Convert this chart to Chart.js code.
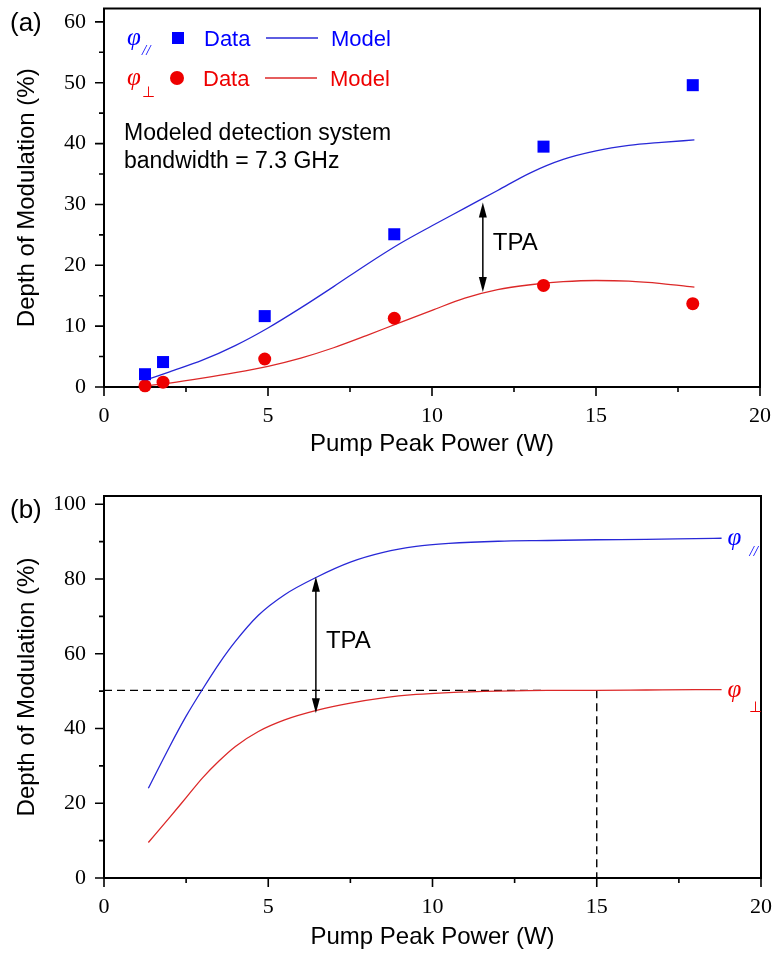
<!DOCTYPE html>
<html>
<head>
<meta charset="utf-8">
<script src="https://cdn.jsdelivr.net/npm/chart.js@4.4.1/dist/chart.umd.min.js"></script>
<style>
  body { margin: 0; background: #fff; }
  #caixa_a { position: absolute; left: 0; top: 0; }
  #caixa_b { position: absolute; left: 0; top: 480px; }
</style>
</head>
<body>
<div id="caixa_a"><canvas id="grafico_a" width="774" height="470"></canvas></div>
<div id="caixa_b"><canvas id="grafico_b" width="774" height="477"></canvas></div>
<script>
// painel (a) - pontos medidos
const potenciaDados = [1.25, 1.8, 4.9, 8.85, 13.4, 17.95];
const dadosParalelo = [2.1, 4.1, 11.65, 25.1, 39.5, 49.6];
const dadosPerpendicular = [0.2, 0.8, 4.6, 11.3, 16.7, 13.7];

// painel (a) - modelo
const potenciaModeloA = [1.3, 2, 3, 4, 5, 6, 7, 8, 9, 10, 11, 12, 13, 14, 15, 16, 17, 18];
const modeloParaleloA = [1.2, 2.5, 4.4, 6.8, 9.7, 13.0, 16.5, 20.1, 23.5, 26.5, 29.4, 32.3, 35.2, 37.4, 38.8, 39.7, 40.2, 40.6];
const modeloPerpendicularA = [0.2, 0.65, 1.45, 2.35, 3.4, 4.75, 6.45, 8.45, 10.55, 12.6, 14.6, 16.0, 16.8, 17.3, 17.5, 17.4, 17.0, 16.4];

// painel (b) - modelo
const potenciaModeloB = [1.35, 2, 2.5, 3, 3.5, 4, 4.7, 5.5, 6.5, 7.5, 8.5, 9.5, 10.5, 12, 13.5, 15, 16.5, 18, 18.8];
const modeloParaleloB = [24, 35.2, 43.3, 50.5, 57.3, 63.3, 70.3, 75.8, 80.6, 84.5, 87.1, 88.7, 89.5, 90.1, 90.3, 90.5, 90.6, 90.8, 90.9];
const modeloPerpendicularB = [9.5, 16.2, 21.5, 26.8, 31.3, 35.2, 39.2, 42.3, 44.9, 46.8, 48.2, 49.1, 49.6, 50.0, 50.2, 50.2, 50.3, 50.4, 50.4];

// linhas tracejadas do painel (b)
const tracejadoHorizontal = [[0, 50.2], [13.45, 50.2]];
const tracejadoVertical = [[15, 50.2], [15, 0]];

// setas TPA: [potencia, topo, base]
const setaA = [11.55, 30.3, 15.6];
const setaB = [6.45, 80.6, 44.1];

// ticks
const ticksX = [0, 5, 10, 15, 20];
const ticksXmenor = [2.5, 7.5, 12.5, 17.5];
const ticksYa = [0, 10, 20, 30, 40, 50, 60];
const ticksYaMenor = [5, 15, 25, 35, 45, 55];
const ticksYb = [0, 20, 40, 60, 80, 100];
const ticksYbMenor = [10, 30, 50, 70, 90];

const azul = '#0000ff';
const vermelho = '#ee0000';
const linhaAzul = 'rgb(40, 40, 215)';
const linhaVermelha = 'rgb(220, 40, 40)';
const fonteSans = 'Liberation Sans';
const fonteSerif = 'Liberation Serif';

function pares(xs, ys) {
  return xs.map((x, i) => ({ x: x, y: ys[i] }));
}

// moldura e marcas dos eixos
const pluginMoldura = {
  id: 'moldura',
  beforeDatasetsDraw(chart, args, opts) {
    const ctx = chart.ctx;
    const a = chart.chartArea;
    const x = chart.scales.x;
    const y = chart.scales.y;
    ctx.save();
    ctx.strokeStyle = '#000';
    ctx.lineWidth = 2;
    ctx.strokeRect(a.left, a.top, a.right - a.left, a.bottom - a.top);
    ctx.lineWidth = 1.6;
    ctx.beginPath();
    opts.xMaior.forEach(v => { const p = x.getPixelForValue(v); ctx.moveTo(p, a.bottom); ctx.lineTo(p, a.bottom + 9); });
    opts.xMenor.forEach(v => { const p = x.getPixelForValue(v); ctx.moveTo(p, a.bottom); ctx.lineTo(p, a.bottom + 5); });
    opts.yMaior.forEach(v => { const p = y.getPixelForValue(v); ctx.moveTo(a.left, p); ctx.lineTo(a.left - 9, p); });
    opts.yMenor.forEach(v => { const p = y.getPixelForValue(v); ctx.moveTo(a.left, p); ctx.lineTo(a.left - 5, p); });
    ctx.stroke();
    ctx.restore();
  }
};

function desenharSeta(ctx, px, yTopo, yBase) {
  ctx.save();
  ctx.strokeStyle = '#000';
  ctx.fillStyle = '#000';
  ctx.lineWidth = 1.5;
  ctx.beginPath();
  ctx.moveTo(px, yTopo + 10);
  ctx.lineTo(px, yBase - 10);
  ctx.stroke();
  ctx.beginPath();
  ctx.moveTo(px, yTopo);
  ctx.lineTo(px - 4, yTopo + 15);
  ctx.lineTo(px + 4, yTopo + 15);
  ctx.closePath();
  ctx.fill();
  ctx.beginPath();
  ctx.moveTo(px, yBase);
  ctx.lineTo(px - 4, yBase - 15);
  ctx.lineTo(px + 4, yBase - 15);
  ctx.closePath();
  ctx.fill();
  ctx.restore();
}

// anotacoes do painel (a)
const pluginAnotacoesA = {
  id: 'anotacoesA',
  afterDraw(chart) {
    const ctx = chart.ctx;
    const x = chart.scales.x;
    const y = chart.scales.y;
    ctx.save();
    ctx.textBaseline = 'alphabetic';
    ctx.fillStyle = '#000';
    ctx.font = '26px ' + fonteSans;
    ctx.fillText('(a)', 10, 31);

    // legenda
    ctx.font = 'italic 25px ' + fonteSerif;
    ctx.fillStyle = azul;
    ctx.fillText('φ', 127, 45);
    ctx.font = 'italic 15px ' + fonteSerif;
    ctx.fillText('//', 142, 55);
    ctx.fillRect(172, 32, 12, 12);
    ctx.font = '22px ' + fonteSans;
    ctx.fillText('Data', 204, 46);
    ctx.fillText('Model', 331, 46);
    ctx.strokeStyle = linhaAzul;
    ctx.lineWidth = 1.3;
    ctx.beginPath(); ctx.moveTo(266, 38); ctx.lineTo(318, 38); ctx.stroke();

    ctx.font = 'italic 25px ' + fonteSerif;
    ctx.fillStyle = vermelho;
    ctx.fillText('φ', 127, 85);
    ctx.font = '15px ' + fonteSerif;
    ctx.fillText('⊥', 142, 97);
    ctx.beginPath(); ctx.arc(177, 78, 7, 0, Math.PI * 2); ctx.fill();
    ctx.font = '22px ' + fonteSans;
    ctx.fillText('Data', 203, 86);
    ctx.fillText('Model', 330, 86);
    ctx.strokeStyle = linhaVermelha;
    ctx.beginPath(); ctx.moveTo(265, 78); ctx.lineTo(317, 78); ctx.stroke();

    ctx.fillStyle = '#000';
    ctx.font = '23px ' + fonteSans;
    ctx.fillText('Modeled detection system', 124, 140);
    ctx.fillText('bandwidth = 7.3 GHz', 124, 168);

    // seta TPA
    const px = x.getPixelForValue(setaA[0]);
    desenharSeta(ctx, px, y.getPixelForValue(setaA[1]), y.getPixelForValue(setaA[2]));
    ctx.font = '24px ' + fonteSans;
    ctx.fillText('TPA', px + 10, 250);
    ctx.restore();
  }
};

// anotacoes do painel (b)
const pluginAnotacoesB = {
  id: 'anotacoesB',
  afterDraw(chart) {
    const ctx = chart.ctx;
    const x = chart.scales.x;
    const y = chart.scales.y;
    ctx.save();
    ctx.fillStyle = '#000';
    ctx.font = '26px ' + fonteSans;
    ctx.fillText('(b)', 10, 38);

    const px = x.getPixelForValue(setaB[0]);
    desenharSeta(ctx, px, y.getPixelForValue(setaB[1]), y.getPixelForValue(setaB[2]));
    ctx.font = '24px ' + fonteSans;
    ctx.fillText('TPA', px + 10, 168);

    // rotulos no fim das curvas
    const n = potenciaModeloB.length - 1;
    const xFim = x.getPixelForValue(potenciaModeloB[n]) + 6;
    const yPar = y.getPixelForValue(modeloParaleloB[n]);
    const yPer = y.getPixelForValue(modeloPerpendicularB[n]);
    ctx.font = 'italic 25px ' + fonteSerif;
    ctx.fillStyle = azul;
    ctx.fillText('φ', xFim, yPar + 7);
    ctx.font = 'italic 15px ' + fonteSerif;
    ctx.fillText('//', xFim + 22, yPar + 18);
    ctx.font = 'italic 25px ' + fonteSerif;
    ctx.fillStyle = vermelho;
    ctx.fillText('φ', xFim, yPer + 7);
    ctx.font = '15px ' + fonteSerif;
    ctx.fillText('⊥', xFim + 21, yPer + 22);
    ctx.restore();
  }
};

function eixos(maxY, passoY, alturaX) {
  return {
    x: {
      type: 'linear',
      min: 0,
      max: 20,
      ticks: { stepSize: 5, color: '#000', padding: 7, font: { family: fonteSerif, size: 22 } },
      grid: { display: false, drawTicks: true, tickLength: 9 },
      border: { display: false },
      title: { display: true, text: 'Pump Peak Power (W)', color: '#000', font: { family: fonteSans, size: 24 }, padding: { top: 0, bottom: alturaX.titulo } },
      afterFit(s) { s.height = alturaX.altura; s.paddingLeft = 0; s.paddingRight = 0; }
    },
    y: {
      type: 'linear',
      min: 0,
      max: maxY,
      ticks: { stepSize: passoY, includeBounds: false, color: '#000', padding: 9, font: { family: fonteSerif, size: 22 } },
      grid: { display: false, drawTicks: true, tickLength: 9 },
      border: { display: false },
      title: { display: true, text: 'Depth of Modulation (%)', color: '#000', font: { family: fonteSans, size: 24 }, padding: { top: 13, bottom: 0 } },
      afterFit(s) { s.width = 104; s.paddingTop = 0; s.paddingBottom = 0; }
    }
  };
}

const configA = {
  type: 'scatter',
  data: {
    datasets: [
      { label: 'φ// Data', data: pares(potenciaDados, dadosParalelo), pointStyle: 'rect', pointRadius: 8.5, backgroundColor: azul, borderWidth: 0, clip: false },
      { label: 'φ⊥ Data', data: pares(potenciaDados, dadosPerpendicular), pointStyle: 'circle', pointRadius: 6.5, backgroundColor: vermelho, borderWidth: 0, clip: false },
      { label: 'φ// Model', data: pares(potenciaModeloA, modeloParaleloA), showLine: true, pointRadius: 0, borderColor: linhaAzul, borderWidth: 1.3, cubicInterpolationMode: 'monotone' },
      { label: 'φ⊥ Model', data: pares(potenciaModeloA, modeloPerpendicularA), showLine: true, pointRadius: 0, borderColor: linhaVermelha, borderWidth: 1.3, cubicInterpolationMode: 'monotone' }
    ]
  },
  options: {
    responsive: false,
    animation: false,
    layout: { padding: { left: 0, right: 14, top: 6, bottom: 0 } },
    scales: eixos(62.2, 10, { altura: 83, titulo: 11 }),
    plugins: {
      legend: { display: false },
      tooltip: { enabled: false },
      moldura: { xMaior: ticksX, xMenor: ticksXmenor, yMaior: ticksYa, yMenor: ticksYaMenor }
    }
  },
  plugins: [pluginMoldura, pluginAnotacoesA]
};

const configB = {
  type: 'scatter',
  data: {
    datasets: [
      { label: 'φ//', data: pares(potenciaModeloB, modeloParaleloB), showLine: true, pointRadius: 0, borderColor: linhaAzul, borderWidth: 1.3, cubicInterpolationMode: 'monotone' },
      { label: 'φ⊥', data: pares(potenciaModeloB, modeloPerpendicularB), showLine: true, pointRadius: 0, borderColor: linhaVermelha, borderWidth: 1.3, cubicInterpolationMode: 'monotone' },
      { label: 'nível 50%', data: tracejadoHorizontal.map(p => ({ x: p[0], y: p[1] })), showLine: true, pointRadius: 0, borderColor: '#000', borderWidth: 1.4, borderDash: [8, 5] },
      { label: '15 W', data: tracejadoVertical.map(p => ({ x: p[0], y: p[1] })), showLine: true, pointRadius: 0, borderColor: '#000', borderWidth: 1.4, borderDash: [8, 5] }
    ]
  },
  options: {
    responsive: false,
    animation: false,
    layout: { padding: { left: 0, right: 13, top: 16, bottom: 0 } },
    scales: eixos(102.2, 20, { altura: 79, titulo: 5 }),
    plugins: {
      legend: { display: false },
      tooltip: { enabled: false },
      moldura: { xMaior: ticksX, xMenor: ticksXmenor, yMaior: ticksYb, yMenor: ticksYbMenor }
    }
  },
  plugins: [pluginMoldura, pluginAnotacoesB]
};

let graficoA = new Chart(document.getElementById('grafico_a'), configA);
let graficoB = new Chart(document.getElementById('grafico_b'), configB);
</script>
</body>
</html>
